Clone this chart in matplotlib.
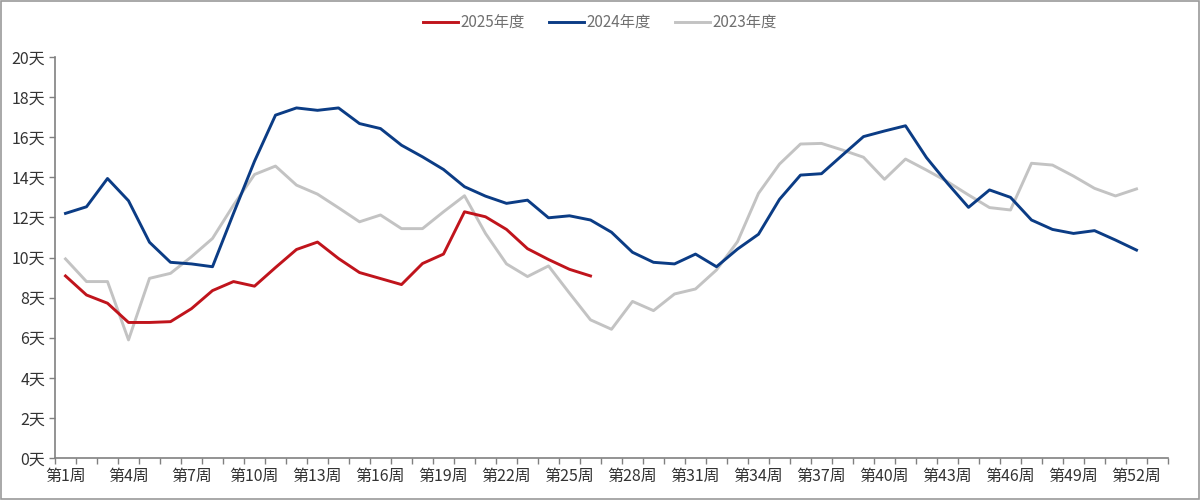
import numpy as np
import matplotlib.pyplot as plt

plt.rcParams['font.family'] = ['Noto Sans CJK SC', 'DejaVu Sans']

weeks = np.arange(1, 53)

# 2025年度 (到第26周)
y2025 = [9.08, 8.13, 7.72, 6.76, 6.76, 6.8, 7.45, 8.35, 8.8, 8.57,
         9.5, 10.4, 10.77, 9.95, 9.25, 8.95, 8.65, 9.7, 10.17, 12.28,
         12.03, 11.4, 10.44, 9.9, 9.41, 9.08]

y2024 = [12.2, 12.53, 13.94, 12.83, 10.76, 9.76, 9.68, 9.54, 12.2, 14.8,
         17.1, 17.46, 17.34, 17.46, 16.68, 16.43, 15.6, 15.02, 14.39, 13.53,
         13.06, 12.7, 12.86, 11.98, 12.08, 11.87, 11.26, 10.26, 9.76, 9.68,
         10.17, 9.54, 10.42, 11.16, 12.9, 14.11, 14.18, 15.11, 16.03, 16.31,
         16.57, 14.98, 13.7, 12.5, 13.37, 13.0, 11.87, 11.4, 11.2, 11.34,
         10.87, 10.37]

y2023 = [9.93, 8.8, 8.8, 5.89, 8.96, 9.21, 10.04, 10.95, 12.61, 14.14,
         14.56, 13.61, 13.16, 12.48, 11.78, 12.12, 11.44, 11.44, 12.28, 13.08,
         11.2, 9.68, 9.05, 9.58, 8.22, 6.89, 6.42, 7.81, 7.35, 8.18,
         8.43, 9.38, 10.79, 13.2, 14.66, 15.66, 15.69, 15.36, 15.0, 13.9,
         14.91, 14.36, 13.78, 13.12, 12.49, 12.37, 14.7, 14.61, 14.06, 13.45,
         13.07, 13.42]

label_weeks = list(range(1, 53, 3))
y_ticks = list(range(0, 21, 2))

fig = plt.figure(figsize=(12, 5), dpi=100)
ax = fig.add_axes([55 / 1200, 1 - 458 / 500, (1168 - 55) / 1200, (458 - 57) / 500])

ax.plot(weeks[:len(y2025)], y2025, color='#C0141C', lw=2.1, label='2025年度', zorder=3)
ax.plot(weeks, y2024, color='#0B3C85', lw=2.1, label='2024年度', zorder=2)
ax.plot(weeks, y2023, color='#C3C3C3', lw=2.1, label='2023年度', zorder=1)

ax.set_xlim(0.5, 53.5)
ax.set_ylim(0, 20)

# 刻度线在类别之间, 标签每3周
ax.set_xticks(np.arange(0.5, 54, 1))
ax.set_xticklabels([])
ax.set_xticks(label_weeks, minor=True)
ax.set_xticklabels(['第%d周' % w for w in label_weeks], minor=True)
ax.tick_params(axis='x', which='major', direction='out', length=4, color='#808080', width=1)
ax.tick_params(axis='x', which='minor', length=0, pad=7, labelsize=11.5, labelcolor='#333333')

ax.set_yticks(y_ticks)
ax.set_yticklabels(['%d天' % v for v in y_ticks])
ax.tick_params(axis='y', direction='out', length=4, color='#808080', width=1,
               labelsize=11.5, labelcolor='#333333', pad=3)

for s in ['top', 'right']:
    ax.spines[s].set_visible(False)
for s in ['left', 'bottom']:
    ax.spines[s].set_color('#808080')
    ax.spines[s].set_linewidth(1.2)

fig.legend(loc='center', bbox_to_anchor=(0.5, 1 - 23 / 500), ncol=3, frameon=False,
           fontsize=11, handlelength=2.3, handletextpad=0.15, columnspacing=1.6,
           labelcolor='#707070')

# 外边框
fig.patches.append(plt.Rectangle((0.001, 0.002), 0.998, 0.996, transform=fig.transFigure,
                                 fill=False, edgecolor='#9a9a9a', lw=1.2))

fig.savefig('out.png', dpi=100)
